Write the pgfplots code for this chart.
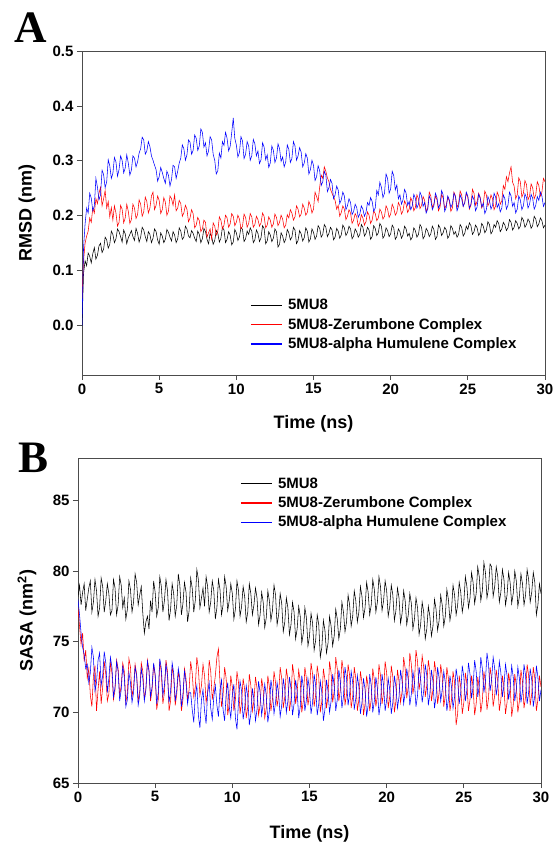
\documentclass[border=0pt]{standalone}
\usepackage{fontspec}
\setmainfont{Liberation Sans}
\newfontfamily\letterfont{Liberation Serif}
\usepackage{pgfplots}
\usepackage{pgfplotstable}
\pgfplotsset{compat=1.18}

% RMSD (nm): time, 5MU8, Zerumbone complex, alpha Humulene complex
\pgfplotstableread{
t k r b
0.0 0.000 0.050 0.000
0.1 0.095 0.118 0.142
0.2 0.118 0.150 0.185
0.3 0.109 0.163 0.214
0.4 0.132 0.172 0.205
0.5 0.126 0.196 0.241
0.6 0.114 0.188 0.232
0.7 0.131 0.214 0.209
0.8 0.142 0.205 0.218
0.9 0.121 0.231 0.268
1.0 0.128 0.222 0.252
1.1 0.145 0.241 0.229
1.2 0.150 0.252 0.238
1.3 0.133 0.218 0.283
1.4 0.139 0.231 0.275
1.5 0.161 0.246 0.251
1.6 0.156 0.214 0.262
1.7 0.141 0.226 0.302
1.8 0.148 0.198 0.291
1.9 0.172 0.215 0.268
2.0 0.166 0.192 0.277
2.1 0.151 0.218 0.306
2.2 0.158 0.205 0.298
2.3 0.176 0.181 0.272
2.4 0.171 0.188 0.284
2.5 0.162 0.219 0.309
2.6 0.152 0.212 0.301
2.7 0.174 0.187 0.278
2.8 0.167 0.196 0.287
2.9 0.149 0.221 0.311
3.0 0.160 0.208 0.296
3.1 0.166 0.186 0.274
3.2 0.173 0.193 0.283
3.3 0.162 0.221 0.309
3.4 0.155 0.214 0.305
3.5 0.177 0.195 0.289
3.6 0.168 0.202 0.298
3.7 0.152 0.229 0.314
3.8 0.161 0.221 0.322
3.9 0.179 0.199 0.343
4.0 0.174 0.207 0.338
4.1 0.162 0.234 0.312
4.2 0.153 0.226 0.318
4.3 0.171 0.205 0.335
4.4 0.166 0.214 0.326
4.5 0.151 0.236 0.309
4.6 0.159 0.243 0.301
4.7 0.176 0.211 0.292
4.8 0.171 0.219 0.284
4.9 0.156 0.236 0.263
5.0 0.148 0.228 0.271
5.1 0.169 0.204 0.288
5.2 0.163 0.211 0.279
5.3 0.151 0.233 0.268
5.4 0.157 0.225 0.259
5.5 0.175 0.201 0.281
5.6 0.170 0.208 0.274
5.7 0.161 0.236 0.254
5.8 0.154 0.231 0.266
5.9 0.171 0.219 0.292
6.0 0.165 0.238 0.289
6.1 0.151 0.209 0.268
6.2 0.158 0.214 0.281
6.3 0.178 0.228 0.296
6.4 0.172 0.222 0.305
6.5 0.157 0.199 0.329
6.6 0.161 0.205 0.322
6.7 0.181 0.219 0.301
6.8 0.176 0.212 0.311
6.9 0.163 0.189 0.338
7.0 0.160 0.196 0.334
7.1 0.173 0.211 0.312
7.2 0.168 0.204 0.319
7.3 0.159 0.178 0.347
7.4 0.153 0.183 0.341
7.5 0.172 0.197 0.319
7.6 0.166 0.191 0.327
7.7 0.151 0.171 0.358
7.8 0.158 0.176 0.352
7.9 0.177 0.192 0.325
8.0 0.171 0.188 0.333
8.1 0.157 0.161 0.309
8.2 0.149 0.169 0.318
8.3 0.168 0.176 0.344
8.4 0.162 0.158 0.338
8.5 0.148 0.187 0.312
8.6 0.155 0.181 0.301
8.7 0.173 0.165 0.276
8.8 0.168 0.172 0.282
8.9 0.152 0.198 0.314
9.0 0.159 0.192 0.305
9.1 0.179 0.176 0.335
9.2 0.174 0.183 0.328
9.3 0.151 0.201 0.352
9.4 0.157 0.196 0.341
9.5 0.171 0.179 0.318
9.6 0.165 0.185 0.326
9.7 0.147 0.204 0.351
9.8 0.152 0.199 0.378
9.9 0.175 0.182 0.341
10.0 0.169 0.188 0.329
10.1 0.155 0.201 0.307
10.2 0.161 0.194 0.315
10.3 0.179 0.176 0.344
10.4 0.175 0.181 0.336
10.5 0.153 0.203 0.304
10.6 0.158 0.197 0.312
10.7 0.172 0.179 0.335
10.8 0.166 0.186 0.327
10.9 0.178 0.204 0.301
11.0 0.172 0.198 0.309
11.1 0.151 0.179 0.339
11.2 0.156 0.184 0.331
11.3 0.174 0.199 0.309
11.4 0.168 0.193 0.318
11.5 0.153 0.181 0.295
11.6 0.160 0.187 0.302
11.7 0.182 0.205 0.333
11.8 0.177 0.199 0.325
11.9 0.149 0.178 0.302
12.0 0.154 0.183 0.311
12.1 0.171 0.198 0.288
12.2 0.165 0.192 0.296
12.3 0.153 0.179 0.327
12.4 0.159 0.185 0.319
12.5 0.176 0.203 0.297
12.6 0.171 0.197 0.305
12.7 0.143 0.182 0.331
12.8 0.148 0.188 0.322
12.9 0.169 0.201 0.299
13.0 0.163 0.194 0.307
13.1 0.151 0.178 0.289
13.2 0.157 0.183 0.298
13.3 0.175 0.202 0.329
13.4 0.169 0.196 0.321
13.5 0.156 0.211 0.297
13.6 0.161 0.205 0.304
13.7 0.179 0.192 0.335
13.8 0.174 0.198 0.327
13.9 0.149 0.218 0.301
14.0 0.155 0.212 0.309
14.1 0.173 0.198 0.324
14.2 0.167 0.203 0.316
14.3 0.154 0.221 0.289
14.4 0.160 0.214 0.296
14.5 0.178 0.201 0.313
14.6 0.172 0.206 0.305
14.7 0.152 0.226 0.276
14.8 0.158 0.219 0.284
14.9 0.176 0.205 0.301
15.0 0.170 0.212 0.292
15.1 0.157 0.243 0.264
15.2 0.163 0.235 0.271
15.3 0.182 0.226 0.291
15.4 0.177 0.252 0.282
15.5 0.161 0.274 0.255
15.6 0.166 0.268 0.262
15.7 0.184 0.289 0.281
15.8 0.179 0.281 0.274
15.9 0.162 0.269 0.244
16.0 0.168 0.262 0.251
16.1 0.179 0.248 0.266
16.2 0.174 0.241 0.259
16.3 0.156 0.234 0.231
16.4 0.161 0.228 0.238
16.5 0.177 0.212 0.254
16.6 0.172 0.219 0.247
16.7 0.159 0.199 0.222
16.8 0.165 0.206 0.229
16.9 0.183 0.218 0.243
17.0 0.178 0.212 0.236
17.1 0.164 0.193 0.211
17.2 0.169 0.199 0.218
17.3 0.181 0.211 0.231
17.4 0.176 0.205 0.224
17.5 0.158 0.186 0.202
17.6 0.163 0.192 0.208
17.7 0.176 0.204 0.221
17.8 0.171 0.198 0.215
17.9 0.161 0.181 0.197
18.0 0.166 0.187 0.203
18.1 0.184 0.202 0.218
18.2 0.179 0.196 0.212
18.3 0.163 0.183 0.199
18.4 0.168 0.189 0.206
18.5 0.179 0.207 0.224
18.6 0.174 0.201 0.219
18.7 0.157 0.186 0.233
18.8 0.162 0.192 0.226
18.9 0.182 0.209 0.208
19.0 0.177 0.204 0.214
19.1 0.164 0.191 0.246
19.2 0.169 0.196 0.238
19.3 0.186 0.212 0.261
19.4 0.181 0.207 0.252
19.5 0.159 0.194 0.233
19.6 0.164 0.199 0.241
19.7 0.178 0.218 0.276
19.8 0.173 0.212 0.268
19.9 0.162 0.197 0.241
20.0 0.167 0.203 0.249
20.1 0.183 0.221 0.281
20.2 0.178 0.214 0.273
20.3 0.157 0.201 0.247
20.4 0.162 0.206 0.256
20.5 0.176 0.224 0.231
20.6 0.171 0.218 0.238
20.7 0.159 0.203 0.221
20.8 0.165 0.209 0.229
20.9 0.181 0.227 0.248
21.0 0.176 0.221 0.241
21.1 0.163 0.206 0.219
21.2 0.168 0.212 0.226
21.3 0.156 0.233 0.211
21.4 0.161 0.226 0.218
21.5 0.178 0.209 0.239
21.6 0.173 0.215 0.232
21.7 0.161 0.238 0.214
21.8 0.166 0.231 0.221
21.9 0.184 0.213 0.243
22.0 0.179 0.219 0.236
22.1 0.158 0.235 0.217
22.2 0.163 0.228 0.224
22.3 0.177 0.208 0.205
22.4 0.172 0.214 0.212
22.5 0.162 0.243 0.236
22.6 0.167 0.236 0.229
22.7 0.181 0.215 0.211
22.8 0.175 0.221 0.218
22.9 0.157 0.236 0.241
23.0 0.162 0.229 0.233
23.1 0.183 0.209 0.214
23.2 0.178 0.216 0.221
23.3 0.164 0.239 0.246
23.4 0.169 0.232 0.238
23.5 0.179 0.213 0.208
23.6 0.174 0.219 0.215
23.7 0.159 0.234 0.236
23.8 0.164 0.227 0.229
23.9 0.182 0.208 0.215
24.0 0.177 0.214 0.222
24.1 0.166 0.243 0.241
24.2 0.171 0.236 0.234
24.3 0.161 0.215 0.209
24.4 0.166 0.222 0.217
24.5 0.184 0.245 0.238
24.6 0.179 0.238 0.231
24.7 0.163 0.217 0.217
24.8 0.168 0.224 0.224
24.9 0.181 0.241 0.243
25.0 0.175 0.233 0.236
25.1 0.187 0.212 0.214
25.2 0.182 0.219 0.221
25.3 0.166 0.248 0.236
25.4 0.171 0.241 0.229
25.5 0.183 0.219 0.209
25.6 0.178 0.226 0.216
25.7 0.164 0.241 0.239
25.8 0.169 0.234 0.232
25.9 0.186 0.214 0.216
26.0 0.181 0.221 0.223
26.1 0.169 0.245 0.204
26.2 0.174 0.238 0.211
26.3 0.189 0.218 0.235
26.4 0.184 0.225 0.228
26.5 0.167 0.238 0.212
26.6 0.172 0.231 0.219
26.7 0.184 0.211 0.241
26.8 0.179 0.218 0.234
26.9 0.191 0.243 0.215
27.0 0.186 0.236 0.222
27.1 0.171 0.221 0.207
27.2 0.176 0.227 0.214
27.3 0.188 0.255 0.238
27.4 0.183 0.248 0.231
27.5 0.173 0.271 0.212
27.6 0.178 0.262 0.219
27.7 0.193 0.278 0.243
27.8 0.188 0.289 0.236
27.9 0.174 0.261 0.217
28.0 0.179 0.254 0.224
28.1 0.191 0.231 0.205
28.2 0.186 0.238 0.212
28.3 0.176 0.269 0.236
28.4 0.181 0.262 0.229
28.5 0.197 0.234 0.211
28.6 0.192 0.241 0.218
28.7 0.179 0.264 0.240
28.8 0.184 0.257 0.233
28.9 0.194 0.229 0.214
29.0 0.189 0.236 0.221
29.1 0.177 0.258 0.239
29.2 0.182 0.251 0.232
29.3 0.199 0.231 0.212
29.4 0.194 0.238 0.219
29.5 0.180 0.262 0.235
29.6 0.185 0.255 0.228
29.7 0.196 0.236 0.243
29.8 0.191 0.243 0.236
29.9 0.178 0.268 0.217
30.0 0.183 0.262 0.224
}\rmsd

% SASA (nm^2): time, 5MU8, Zerumbone complex, alpha Humulene complex
\pgfplotstableread{
t k r b
0.0 78.2 77.4 78.0
0.1 79.0 76.1 76.9
0.2 77.6 74.8 75.6
0.3 78.5 75.6 74.6
0.4 79.1 73.6 74.1
0.5 77.2 74.4 73.1
0.6 78.0 72.4 73.4
0.7 78.8 73.1 72.1
0.8 79.3 71.2 72.8
0.9 77.1 70.4 74.6
1.0 77.8 72.6 73.9
1.1 79.4 73.3 71.5
1.2 78.6 70.1 72.1
1.3 76.8 71.6 73.7
1.4 77.4 72.9 74.2
1.5 79.5 70.6 71.9
1.6 78.9 71.8 72.6
1.7 77.1 73.6 74.3
1.8 77.9 72.7 73.5
1.9 79.1 70.8 71.4
2.0 78.4 71.3 72.4
2.1 76.9 73.5 73.9
2.2 77.2 72.8 73.2
2.3 79.4 70.9 71.1
2.4 78.8 71.6 71.8
2.5 76.9 73.7 73.6
2.6 77.6 73.1 72.9
2.7 79.6 71.2 70.8
2.8 79.0 71.9 71.6
2.9 77.4 73.5 73.3
3.0 78.1 72.9 72.5
3.1 76.6 70.7 70.4
3.2 77.3 71.4 70.9
3.3 79.3 73.8 72.8
3.4 78.7 73.2 72.1
3.5 77.1 71.1 70.7
3.6 77.8 71.8 71.4
3.7 79.8 73.4 73.2
3.8 79.2 72.7 72.6
3.9 77.6 70.8 70.5
4.0 78.3 71.5 71.2
4.1 78.9 73.5 73.1
4.2 77.0 72.9 72.4
4.3 75.6 70.9 70.8
4.4 76.4 71.7 71.6
4.5 76.8 73.7 73.6
4.6 75.9 73.0 72.9
4.7 77.9 70.8 71.1
4.8 77.1 71.6 71.8
4.9 79.3 73.4 73.5
5.0 78.5 72.6 72.7
5.1 76.8 70.2 70.6
5.2 77.4 70.9 71.4
5.3 79.6 73.6 73.8
5.4 78.9 72.8 73.1
5.5 77.1 70.6 71.2
5.6 77.9 71.4 71.9
5.7 79.4 73.7 73.4
5.8 78.6 72.9 72.6
5.9 76.5 70.1 70.7
6.0 77.3 70.8 71.5
6.1 79.1 73.2 73.5
6.2 78.4 72.5 72.8
6.3 76.8 70.5 70.8
6.4 77.6 71.3 71.6
6.5 79.8 72.9 73.1
6.6 79.0 72.1 72.4
6.7 76.9 70.1 70.4
6.8 77.7 70.9 71.3
6.9 79.2 73.1 72.9
7.0 78.5 72.4 72.1
7.1 76.4 70.9 70.6
7.2 77.2 71.6 71.4
7.3 79.5 73.6 71.4
7.4 78.8 72.8 70.2
7.5 77.1 71.1 69.3
7.6 77.9 71.8 71.2
7.7 80.1 73.9 71.9
7.8 79.4 73.1 69.8
7.9 77.4 71.2 68.9
8.0 78.1 71.9 70.9
8.1 78.8 73.4 71.6
8.2 77.5 72.6 70.1
8.3 79.6 70.7 69.2
8.4 78.9 71.4 71.4
8.5 77.1 73.7 72.1
8.6 77.8 72.9 70.3
8.7 79.3 70.9 69.5
8.8 78.6 71.7 71.1
8.9 76.6 72.6 71.9
9.0 77.4 73.9 70.5
9.1 79.4 74.5 69.7
9.2 78.7 72.1 71.6
9.3 76.9 70.4 72.3
9.4 77.6 71.2 70.2
9.5 79.6 73.2 69.4
9.6 78.9 72.4 71.3
9.7 77.2 69.8 72.1
9.8 77.9 70.6 70.4
9.9 79.1 72.6 69.6
10.0 78.4 71.8 71.2
10.1 76.6 70.1 72.0
10.2 77.3 70.9 69.6
10.3 79.3 72.9 68.8
10.4 78.6 72.1 70.8
10.5 76.8 69.9 72.2
10.6 77.5 70.7 71.5
10.7 78.9 72.4 69.5
10.8 78.2 71.6 70.3
10.9 76.4 69.6 71.9
11.0 77.1 70.4 71.1
11.1 79.1 72.7 69.1
11.2 78.4 71.9 69.9
11.3 76.9 70.1 71.7
11.4 77.6 70.8 70.9
11.5 78.8 72.5 69.4
11.6 78.1 71.7 70.2
11.7 76.2 69.8 72.2
11.8 76.9 70.5 71.4
11.9 78.5 72.4 69.8
12.0 77.8 71.6 70.6
12.1 76.0 69.6 72.0
12.2 76.7 70.3 71.2
12.3 78.6 72.6 69.3
12.4 77.9 71.8 70.1
12.5 76.5 70.1 72.3
12.6 77.2 70.9 71.5
12.7 79.0 72.9 69.9
12.8 78.3 72.1 70.7
12.9 76.2 70.4 72.1
13.0 76.9 71.2 71.3
13.1 78.4 73.2 69.7
13.2 77.7 72.4 70.5
13.3 75.7 70.3 72.4
13.4 76.4 71.1 71.6
13.5 78.1 73.1 70.0
13.6 77.4 72.3 70.8
13.7 75.5 70.1 72.5
13.8 76.2 70.9 71.7
13.9 77.8 73.4 69.8
14.0 77.1 72.6 70.6
14.1 75.2 70.6 72.3
14.2 75.9 71.4 71.5
14.3 77.5 73.0 69.6
14.4 76.8 72.2 70.4
14.5 74.9 70.0 72.6
14.6 75.6 70.8 71.8
14.7 77.4 73.2 70.1
14.8 76.7 72.4 70.9
14.9 74.7 70.5 72.4
15.0 75.4 71.3 71.6
15.1 77.0 73.5 69.9
15.2 76.3 72.7 70.7
15.3 74.4 70.4 72.7
15.4 75.1 71.2 71.9
15.5 76.9 73.3 69.8
15.6 76.2 72.5 70.6
15.7 73.9 70.0 72.2
15.8 74.6 70.8 71.4
15.9 76.5 73.1 69.4
16.0 75.8 72.3 70.2
16.1 74.2 70.3 72.3
16.2 74.9 71.1 71.5
16.3 76.8 73.6 70.0
16.4 76.1 72.8 70.8
16.5 74.7 70.7 72.7
16.6 75.4 71.5 71.9
16.7 77.3 73.9 70.1
16.8 76.6 73.1 70.9
16.9 75.2 70.8 73.0
17.0 75.9 71.6 72.2
17.1 77.8 73.7 70.3
17.2 77.1 72.9 71.1
17.3 75.7 70.5 73.2
17.4 76.4 71.3 72.4
17.5 78.3 73.4 70.5
17.6 77.6 72.6 71.3
17.7 76.1 70.3 72.9
17.8 76.8 71.1 72.1
17.9 78.6 73.2 70.2
18.0 77.9 72.4 71.0
18.1 76.4 70.1 72.6
18.2 77.1 70.9 71.8
18.3 78.9 72.9 69.9
18.4 78.2 72.1 70.7
18.5 76.7 69.8 72.4
18.6 77.4 70.6 71.6
18.7 79.2 72.6 69.7
18.8 78.5 71.8 70.5
18.9 76.9 70.1 72.7
19.0 77.6 70.9 71.9
19.1 79.4 73.1 70.0
19.2 78.7 72.3 70.8
19.3 77.1 70.4 72.5
19.4 77.8 71.2 71.7
19.5 79.6 73.4 69.8
19.6 78.9 72.6 70.6
19.7 77.2 70.6 72.7
19.8 77.9 71.4 71.9
19.9 79.3 73.6 70.1
20.0 78.6 72.8 70.9
20.1 76.8 70.3 72.4
20.2 77.5 71.1 71.6
20.3 79.0 73.3 69.9
20.4 78.3 72.5 70.7
20.5 76.5 70.0 72.6
20.6 77.2 70.8 71.8
20.7 78.8 73.0 70.3
20.8 78.1 72.2 71.1
20.9 76.3 70.7 73.0
21.0 77.0 71.5 72.2
21.1 78.6 73.9 70.6
21.2 77.9 73.1 71.4
21.3 76.2 71.0 73.1
21.4 76.9 71.8 72.3
21.5 78.4 74.2 70.5
21.6 77.7 73.4 71.3
21.7 75.9 71.3 72.9
21.8 76.6 72.1 72.1
21.9 78.1 74.4 70.4
22.0 77.4 73.6 71.2
22.1 75.5 71.6 73.2
22.2 76.2 72.4 72.4
22.3 77.8 74.0 70.7
22.4 77.1 73.2 71.5
22.5 75.2 71.1 73.4
22.6 75.9 71.9 72.6
22.7 77.5 73.7 70.5
22.8 76.8 72.9 71.3
22.9 75.4 70.8 73.0
23.0 76.1 71.6 72.2
23.1 78.0 73.6 70.3
23.2 77.3 72.8 71.1
23.3 75.8 70.6 73.2
23.4 76.5 71.4 72.4
23.5 78.3 73.4 70.8
23.6 77.6 72.6 71.6
23.7 76.1 70.4 72.9
23.8 76.8 71.2 72.1
23.9 78.7 73.2 70.1
24.0 78.0 72.4 70.9
24.1 76.5 70.1 72.6
24.2 77.2 70.9 71.8
24.3 79.0 72.9 70.3
24.4 78.3 72.1 71.1
24.5 76.9 69.1 73.1
24.6 77.6 69.9 72.3
24.7 79.2 72.6 70.6
24.8 78.5 71.8 71.4
24.9 77.1 69.9 73.3
25.0 77.8 70.7 72.5
25.1 79.6 72.8 70.8
25.2 78.9 72.0 71.6
25.3 77.4 70.1 73.5
25.4 78.1 70.9 72.7
25.5 79.9 72.6 71.0
25.6 79.2 71.8 71.8
25.7 77.7 69.8 73.7
25.8 78.4 70.6 72.9
25.9 80.3 72.5 71.1
26.0 79.6 71.7 71.9
26.1 77.9 70.0 73.9
26.2 78.6 70.8 73.1
26.3 80.6 72.9 71.4
26.4 79.9 72.1 72.2
26.5 78.1 70.2 74.2
26.6 78.8 71.0 73.4
26.7 80.5 73.2 71.5
26.8 80.3 72.4 72.3
26.9 78.2 70.4 73.9
27.0 78.9 71.2 73.1
27.1 80.3 73.0 71.2
27.2 79.6 72.2 72.0
27.3 77.8 70.1 73.6
27.4 78.5 70.9 72.8
27.5 80.1 72.6 71.1
27.6 79.4 71.8 71.9
27.7 77.6 69.9 73.4
27.8 78.3 70.7 72.6
27.9 79.9 72.8 70.9
28.0 79.2 72.0 71.7
28.1 77.7 69.7 73.3
28.2 78.4 70.5 72.5
28.3 80.0 72.7 70.8
28.4 79.3 71.9 71.6
28.5 77.5 70.0 73.2
28.6 78.2 70.8 72.4
28.7 79.8 73.0 70.7
28.8 79.1 72.2 71.5
28.9 77.6 70.3 73.4
29.0 78.3 71.1 72.6
29.1 80.1 73.4 70.6
29.2 79.4 72.6 71.4
29.3 77.8 70.5 73.1
29.4 78.5 71.3 72.3
29.5 79.9 73.2 70.4
29.6 79.2 72.4 71.2
29.7 76.9 70.1 73.3
29.8 77.6 70.9 72.5
29.9 79.1 72.6 70.8
30.0 78.4 71.8 71.6
}\sasa

\pgfplotsset{
  mdaxis/.style={
    scale only axis,
    width=463pt,
    anchor=south west,
    axis line style={draw=black!70, line width=0.8pt},
    xtick pos=bottom, ytick pos=left,
    tick align=outside,
    major tick length=5pt,
    every tick/.style={draw=black!70, line width=0.8pt},
    tick label style={font=\fontsize{15}{18}\selectfont\bfseries},
    /pgf/number format/assume math mode=true,
    label style={font=\fontsize{18}{21}\selectfont\bfseries},
    xmin=0, xmax=30,
    xtick={0,5,10,15,20,25,30},
    xlabel={Time (ns)},
    legend style={draw=none, fill=none, inner sep=0pt,
      font=\fontsize{15}{18}\selectfont\bfseries,
      row sep=3pt, cells={anchor=west},
      /tikz/every odd column/.append style={column sep=3pt}},
    legend image post style={xscale=1.85, line width=1.2pt},
    every axis plot/.append style={line width=0.55pt},
  }
}

\begin{document}
\begin{tikzpicture}
\useasboundingbox (0,0) rectangle (554pt,844pt);

% panel A: RMSD
\begin{axis}[mdaxis,
    at={(82pt,469pt)}, height=324pt,
    ymin=-0.09, ymax=0.5,
    ytick={0,0.1,0.2,0.3,0.4,0.5},
    yticklabels={0.0,0.1,0.2,0.3,0.4,0.5},
    ylabel={RMSD (nm)},
    ylabel style={at={(axis description cs:-0.119,0.5)}, anchor=center},
    xlabel style={at={(axis description cs:0.5,-0.151)}, anchor=center},
    legend style={at={(0.363,0.240)}, anchor=north west},
]
\addplot[color=black] table[x=t, y=k] {\rmsd};
\addlegendentry{5MU8}
\addplot[color=red] table[x=t, y=r] {\rmsd};
\addlegendentry{5MU8-Zerumbone Complex}
\addplot[color=blue] table[x=t, y=b] {\rmsd};
\addlegendentry{5MU8-alpha Humulene Complex}
\end{axis}

% panel B: SASA
\begin{axis}[mdaxis,
    at={(78pt,61pt)}, height=325pt,
    ymin=65, ymax=88,
    ytick={65,70,75,80,85},
    ylabel={SASA (nm\textsuperscript{2})},
    ylabel style={at={(axis description cs:-0.110,0.5)}, anchor=center},
    xlabel style={at={(axis description cs:0.5,-0.157)}, anchor=center},
    legend style={at={(0.350,0.946)}, anchor=north west},
]
\addplot[color=black] table[x=t, y=k] {\sasa};
\addlegendentry{5MU8}
\addplot[color=red] table[x=t, y=r] {\sasa};
\addlegendentry{5MU8-Zerumbone Complex}
\addplot[color=blue] table[x=t, y=b] {\sasa};
\addlegendentry{5MU8-alpha Humulene Complex}
\end{axis}

\node[anchor=base west, font=\letterfont\bfseries\fontsize{45}{45}\selectfont] at (11pt,801pt) {A};
\node[anchor=base west, font=\letterfont\bfseries\fontsize{45}{45}\selectfont] at (15pt,371pt) {B};
\end{tikzpicture}
\end{document}
